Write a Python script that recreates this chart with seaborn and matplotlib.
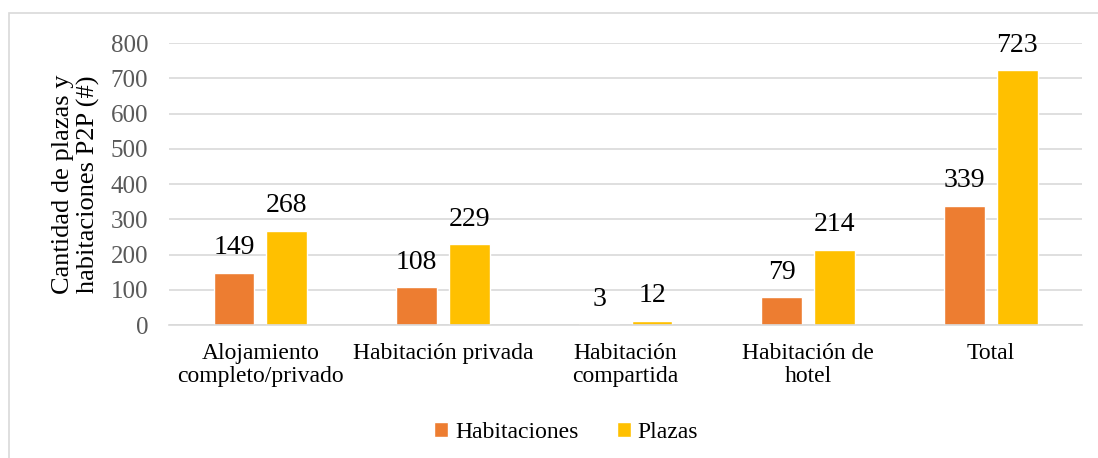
import pandas as pd
import matplotlib.pyplot as plt
import seaborn as sns
from matplotlib.patches import Rectangle

categories = ['Alojamiento\ncompleto/privado', 'Habitación privada',
              'Habitación\ncompartida', 'Habitación de\nhotel', 'Total']
habitaciones = [149, 108, 3, 79, 339]
plazas = [268, 229, 12, 214, 723]
series_names = ['Habitaciones', 'Plazas']
colors = ['#ED7D31', '#FFC000']

df = pd.DataFrame({
    'categoria': categories * 2,
    'serie': [series_names[0]] * len(categories) + [series_names[1]] * len(categories),
    'valor': habitaciones + plazas,
})

sns.set_style('white')
plt.rcParams['font.family'] = ['Liberation Serif', 'DejaVu Serif']
plt.rcParams['text.color'] = 'black'

fig = plt.figure(figsize=(10.98, 4.58), dpi=100)
ax = fig.add_axes([0.154, 0.290, 0.8314, 0.616])

sns.barplot(data=df, x='categoria', y='valor', hue='serie', palette=colors,
            width=0.58, gap=0.23, saturation=1, ax=ax, legend=True)

for cont in ax.containers:
    ax.bar_label(cont, padding=9, fontsize=20, color='black')

ax.set_ylim(0, 800)
ax.set_yticks(range(0, 801, 100))
ax.yaxis.grid(True, color='#D9D9D9', linewidth=1.2)
ax.set_axisbelow(True)
for s in ['left', 'right', 'top']:
    ax.spines[s].set_visible(False)
ax.spines['bottom'].set_color('#D9D9D9')
ax.spines['bottom'].set_linewidth(1.2)
ax.tick_params(axis='y', length=0, labelsize=18, labelcolor='#595959', pad=15)
ax.tick_params(axis='x', length=0, labelsize=17, labelcolor='black', pad=13)
for lbl in ax.get_xticklabels():
    lbl.set_linespacing(1.1)
ax.set_xlabel('')
ax.set_ylabel('Cantidad de plazas y\nhabitaciones P2P (#)', fontsize=19,
              color='black', labelpad=8, linespacing=1.15)

leg = ax.legend(loc='center', bbox_to_anchor=(0.435, -0.38), ncol=2, frameon=False,
                fontsize=17, handlelength=0.6, handleheight=0.6, handletextpad=0.3,
                columnspacing=1.6)
for t in leg.get_texts():
    t.set_color('black')

fig.patches.append(Rectangle((9 / 1098, -0.1), 1.2, 1.1 - 13 / 458,
                             transform=fig.transFigure, fill=False,
                             edgecolor='#D9D9D9', linewidth=1.2))

fig.savefig('out.png', dpi=100)
